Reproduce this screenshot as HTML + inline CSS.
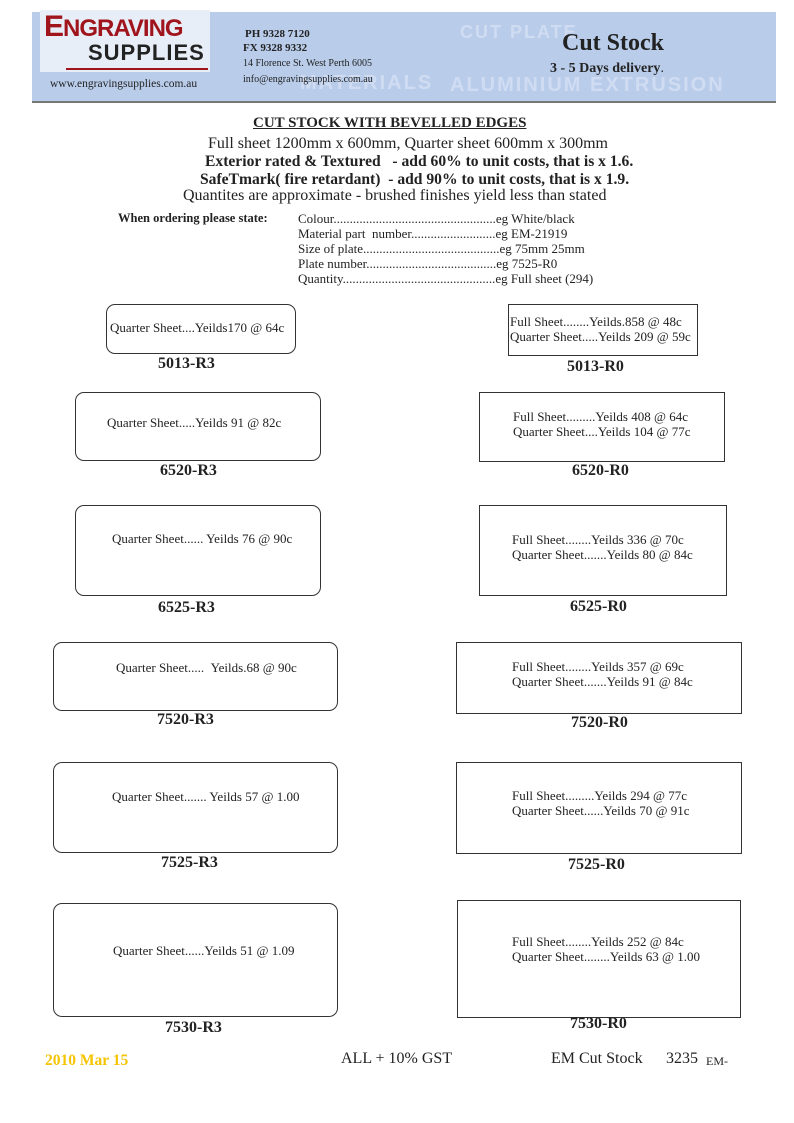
<!DOCTYPE html>
<html><head><meta charset="utf-8"><style>
*{margin:0;padding:0}
body{width:794px;height:1123px;position:relative;background:#fff;font-family:"Liberation Serif",serif;color:#222;overflow:hidden}
.a{position:absolute;white-space:nowrap}
.b{position:absolute;border:1px solid #333;background:#fff}
.r{border-radius:9px}
.t{position:absolute;font-size:13px;line-height:15px;white-space:nowrap}
.l{position:absolute;font-weight:bold;font-size:16px;white-space:nowrap}
</style></head><body>
<div class="a" style="left:32px;top:12px;width:744px;height:90px;background:#b9cdeb"></div>
<div class="a" style="left:32px;top:101px;width:744px;height:2px;background:#777"></div>
<div class="a" style="left:300px;top:72px;font:bold 20px 'Liberation Sans',sans-serif;color:#d0dcf2;letter-spacing:2px">MATERIALS</div>
<div class="a" style="left:450px;top:74px;font:bold 20px 'Liberation Sans',sans-serif;color:#d0dcf2;letter-spacing:2px">ALUMINIUM EXTRUSION</div>
<div class="a" style="left:460px;top:22px;font:bold 18px 'Liberation Sans',sans-serif;color:#d0dcf2;letter-spacing:2px">CUT PLATE</div>
<div class="a" style="left:40px;top:10px;width:170px;height:62px;background:#e8eef8"></div>
<div class="a" style="left:44px;top:10px;font:bold 30px 'Liberation Sans',sans-serif;color:#a0141c;letter-spacing:-1px">E<span style="font-size:24px">NGRAVING</span></div>
<div class="a" style="left:88px;top:40px;font:bold 22px 'Liberation Sans',sans-serif;color:#222;letter-spacing:1px">SUPPLIES</div>
<div class="a" style="left:66px;top:68px;width:142px;height:2px;background:#a0141c"></div>
<div class="a" style="left:50px;top:78px;font-size:11.5px">www.engravingsupplies.com.au</div>
<div class="a" style="left:245px;top:28px;font-size:11px;font-weight:bold">PH 9328 7120</div>
<div class="a" style="left:243px;top:42px;font-size:11px;font-weight:bold">FX 9328 9332</div>
<div class="a" style="left:243px;top:58px;font-size:10px">14 Florence St. West Perth 6005</div>
<div class="a" style="left:243px;top:74px;font-size:10px">info@engravingsupplies.com.au</div>
<div class="a" style="left:562px;top:30px;font-size:24px;font-weight:bold">Cut Stock</div>
<div class="a" style="left:550px;top:61px;font-size:14px;font-weight:bold">3 - 5 Days delivery<span style="font-weight:normal">.</span></div>

<div class="a" style="left:253px;top:115px;font-size:15px;font-weight:bold;text-decoration:underline">CUT STOCK WITH BEVELLED EDGES</div>
<div class="a" style="left:208px;top:135px;font-size:16px">Full sheet 1200mm x 600mm, Quarter sheet 600mm x 300mm</div>
<div class="a" style="left:205px;top:153px;font-size:15.6px;font-weight:bold">Exterior rated &amp; Textured &nbsp; - add 60% to unit costs, that is x 1.6.</div>
<div class="a" style="left:200px;top:171px;font-size:15.6px;font-weight:bold">SafeTmark( fire retardant) &nbsp;- add 90% to unit costs, that is x 1.9.</div>
<div class="a" style="left:183px;top:187px;font-size:16px">Quantites are approximate - brushed finishes yield less than stated</div>
<div class="a" style="left:118px;top:211px;font-size:12.5px;font-weight:bold">When ordering please state:</div>
<div class="a" style="left:298px;top:211px;font-size:13px;line-height:15px">Colour..................................................eg White/black<br>Material part &nbsp;number..........................eg EM-21919<br>Size of plate..........................................eg 75mm 25mm<br>Plate number........................................eg 7525-R0<br>Quantity...............................................eg Full sheet (294)</div>

<div class="b r" style="left:106px;top:304px;width:188px;height:48px"></div>
<div class="t" style="left:110px;top:320px">Quarter Sheet....Yeilds170 @ 64c</div>
<div class="l" style="left:158px;top:355px">5013-R3</div>
<div class="b" style="left:508px;top:304px;width:188px;height:50px"></div>
<div class="t" style="left:510px;top:314px">Full Sheet........Yeilds.858 @ 48c<br>Quarter Sheet.....Yeilds 209 @ 59c</div>
<div class="l" style="left:567px;top:358px">5013-R0</div>

<div class="b r" style="left:75px;top:392px;width:244px;height:67px"></div>
<div class="t" style="left:107px;top:415px">Quarter Sheet.....Yeilds 91 @ 82c</div>
<div class="l" style="left:160px;top:462px">6520-R3</div>
<div class="b" style="left:479px;top:392px;width:244px;height:68px"></div>
<div class="t" style="left:513px;top:409px">Full Sheet.........Yeilds 408 @ 64c<br>Quarter Sheet....Yeilds 104 @ 77c</div>
<div class="l" style="left:572px;top:462px">6520-R0</div>

<div class="b r" style="left:75px;top:505px;width:244px;height:89px"></div>
<div class="t" style="left:112px;top:531px">Quarter Sheet...... Yeilds 76 @ 90c</div>
<div class="l" style="left:158px;top:599px">6525-R3</div>
<div class="b" style="left:479px;top:505px;width:246px;height:89px"></div>
<div class="t" style="left:512px;top:532px">Full Sheet........Yeilds 336 @ 70c<br>Quarter Sheet.......Yeilds 80 @ 84c</div>
<div class="l" style="left:570px;top:598px">6525-R0</div>

<div class="b r" style="left:53px;top:642px;width:283px;height:67px"></div>
<div class="t" style="left:116px;top:660px">Quarter Sheet..... &nbsp;Yeilds.68 @ 90c</div>
<div class="l" style="left:157px;top:711px">7520-R3</div>
<div class="b" style="left:456px;top:642px;width:284px;height:70px"></div>
<div class="t" style="left:512px;top:659px">Full Sheet........Yeilds 357 @ 69c<br>Quarter Sheet.......Yeilds 91 @ 84c</div>
<div class="l" style="left:571px;top:714px">7520-R0</div>

<div class="b r" style="left:53px;top:762px;width:283px;height:89px"></div>
<div class="t" style="left:112px;top:789px">Quarter Sheet....... Yeilds 57 @ 1.00</div>
<div class="l" style="left:161px;top:854px">7525-R3</div>
<div class="b" style="left:456px;top:762px;width:284px;height:90px"></div>
<div class="t" style="left:512px;top:788px">Full Sheet.........Yeilds 294 @ 77c<br>Quarter Sheet......Yeilds 70 @ 91c</div>
<div class="l" style="left:568px;top:856px">7525-R0</div>

<div class="b r" style="left:53px;top:903px;width:283px;height:112px"></div>
<div class="t" style="left:113px;top:943px">Quarter Sheet......Yeilds 51 @ 1.09</div>
<div class="l" style="left:165px;top:1019px">7530-R3</div>
<div class="b" style="left:457px;top:900px;width:282px;height:116px"></div>
<div class="t" style="left:512px;top:934px">Full Sheet........Yeilds 252 @ 84c<br>Quarter Sheet........Yeilds 63 @ 1.00</div>
<div class="l" style="left:570px;top:1015px">7530-R0</div>

<div class="a" style="left:45px;top:1052px;font-size:15.5px;font-weight:bold;color:#f5c400">2010 Mar 15</div>
<div class="a" style="left:341px;top:1050px;font-size:16px">ALL + 10% GST</div>
<div class="a" style="left:551px;top:1050px;font-size:16px">EM Cut Stock</div>
<div class="a" style="left:666px;top:1050px;font-size:16px">3235</div>
<div class="a" style="left:706px;top:1054px;font-size:12px">EM-</div>
</body></html>
